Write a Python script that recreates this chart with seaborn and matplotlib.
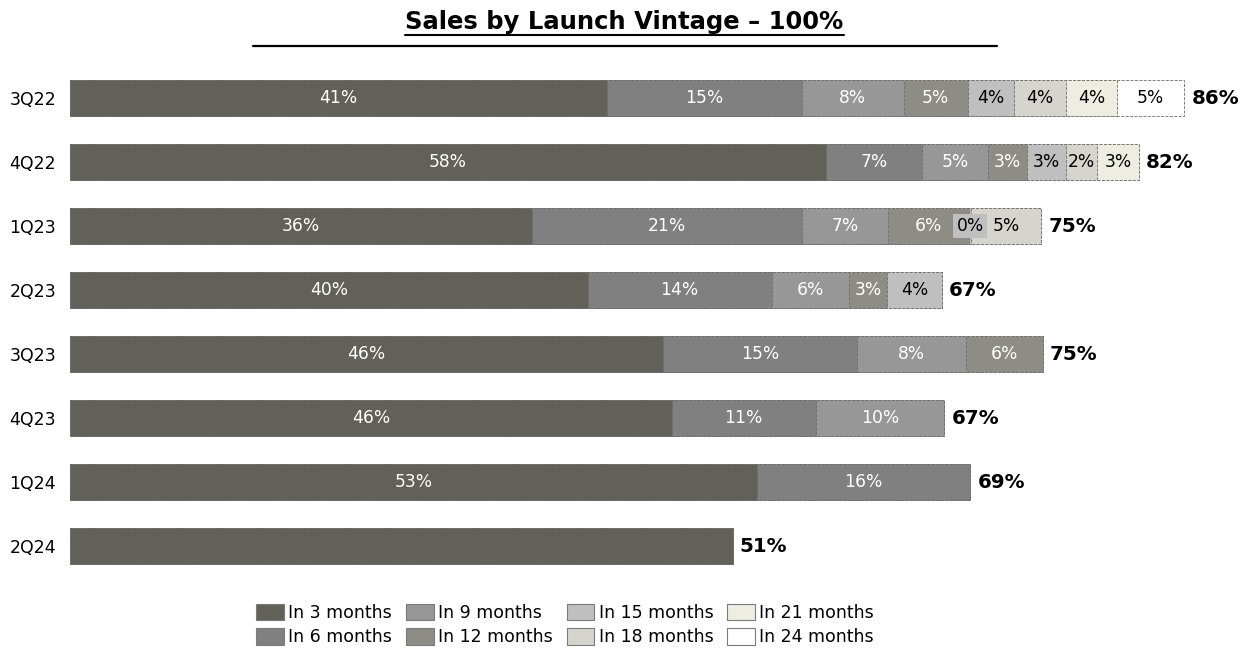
import matplotlib
matplotlib.use("Agg")
import matplotlib.pyplot as plt
from matplotlib.lines import Line2D
from matplotlib.patches import Patch
import numpy as np
import pandas as pd
import seaborn as sns

# Launch vintages (rows) and the share of sales reached within each horizon (%)
vintages = ["3Q22", "4Q22", "1Q23", "2Q23", "3Q23", "4Q23", "1Q24", "2Q24"]
horizons = ["In 3 months", "In 6 months", "In 9 months", "In 12 months",
            "In 15 months", "In 18 months", "In 21 months", "In 24 months"]

in_3m = [41.4, 58.3, 35.6, 39.9, 45.7, 46.4, 53.0, 51.1]
in_6m = [15.0, 7.4, 20.8, 14.2, 15.0, 11.1, 16.4, 0.0]
in_9m = [7.9, 5.1, 6.7, 6.0, 8.4, 9.9, 0.0, 0.0]
in_12m = [4.9, 3.0, 6.2, 2.9, 5.9, 0.0, 0.0, 0.0]
in_15m = [3.6, 3.0, 0.2, 4.2, 0.0, 0.0, 0.0, 0.0]
in_18m = [4.0, 2.4, 5.4, 0.0, 0.0, 0.0, 0.0, 0.0]
in_21m = [3.9, 3.2, 0.0, 0.0, 0.0, 0.0, 0.0, 0.0]
in_24m = [5.2, 0.0, 0.0, 0.0, 0.0, 0.0, 0.0, 0.0]

colors = ["#61615a", "#808080", "#979797", "#8d8d85",
          "#bfbfbf", "#d5d5cd", "#eeede2", "#ffffff"]
label_colors = ["white", "white", "white", "white",
                "black", "black", "black", "black"]

title = "Sales by Launch Vintage \u2013 100%"

segments = np.array([in_3m, in_6m, in_9m, in_12m, in_15m, in_18m, in_21m, in_24m])
cumulative = np.cumsum(segments, axis=0)
totals = cumulative[-1]

sns.set_theme(style="white")
plt.rcParams["font.family"] = ["DejaVu Sans"]

W, H = 1249, 652
fig = plt.figure(figsize=(W / 100, H / 100), dpi=100)
ax = fig.add_axes([70 / W, 1 - 578 / H, 1179 / W, 512 / H])

# Stacked bars: draw the running totals from the longest horizon down,
# so each shorter horizon is painted over the longer one.
for i in range(len(horizons) - 1, -1, -1):
    df = pd.DataFrame({"vintage": vintages, "value": cumulative[i]})
    sns.barplot(data=df, x="value", y="vintage", order=vintages, ax=ax,
                color=colors[i], saturation=1, width=0.56,
                edgecolor="#6e6e6e", linewidth=0.6, linestyle="--",
                errorbar=None)

# Segment labels (only for bars made of more than one segment) and totals
for r in range(len(vintages)):
    n_parts = int(np.sum(segments[:, r] > 0))
    left = 0.0
    for i in range(len(horizons)):
        v = segments[i, r]
        if v > 0 and n_parts > 1:
            kw = {}
            if v < 1:
                kw["bbox"] = dict(facecolor=colors[i], edgecolor="none", pad=2.5)
            ax.text(left + v / 2, r, f"{v:.0f}%", ha="center", va="center",
                    color=label_colors[i], fontsize=12.3, **kw)
        left += v
    ax.text(totals[r] + 0.55, r, f"{totals[r]:.0f}%", ha="left", va="center",
            color="black", fontsize=14.3, fontweight="bold")

ax.set_xlim(0, 1179 / 12.97)
ax.set_ylim(7.5, -0.5)
ax.set_xticks([])
ax.set_xlabel("")
ax.set_ylabel("")
ax.tick_params(axis="y", length=0, pad=10, labelsize=12.5, labelcolor="black")
for s in ax.spines.values():
    s.set_visible(False)

# Title with underline and a rule beneath it
t = fig.text(0.5, 1 - 22 / H, title, ha="center", va="center",
             fontsize=17.5, fontweight="bold", color="black")
renderer = fig.canvas.get_renderer()
bb = t.get_window_extent(renderer=renderer)
uy = (bb.y0 - 1) / H
fig.add_artist(Line2D([bb.x0 / W, bb.x1 / W], [uy, uy], color="black", lw=1.5))
fig.add_artist(Line2D([253 / W, 997 / W], [1 - 46 / H, 1 - 46 / H],
                      color="black", lw=1.6))

# Legend
handles = [Patch(facecolor=c, edgecolor="#7a7a7a", linewidth=0.8, label=h)
           for c, h in zip(colors, horizons)]
fig.legend(handles=handles, loc="center", bbox_to_anchor=(565 / W, 1 - 625 / H),
           ncol=4, frameon=False, fontsize=12.5, labelcolor="black",
           handlelength=1.6, handleheight=1.1, handletextpad=0.25,
           columnspacing=0.8, labelspacing=0.35)

fig.savefig("out.png", dpi=100, facecolor="white")
